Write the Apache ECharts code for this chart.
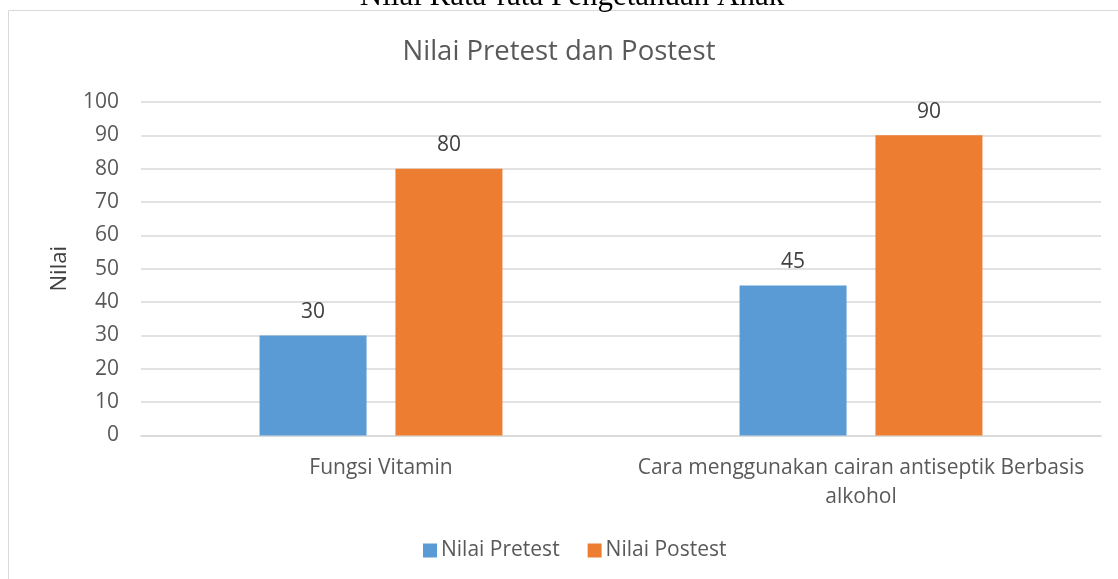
<!DOCTYPE html>
<html>
<head>
<meta charset="utf-8">
<script src="https://cdn.jsdelivr.net/npm/echarts@6/dist/echarts.min.js"></script>
<style>
  html, body { margin: 0; padding: 0; background: #fff; }
  #main { width: 1118px; height: 579px; }
</style>
</head>
<body>
<div id="main"></div>
<script>
// data
const categories = ['Fungsi Vitamin', 'Cara menggunakan cairan antiseptik Berbasis\nalkohol']
const pretest = [30, 45]
const postest = [80, 90]
const seriesNames = ['Nilai Pretest', 'Nilai Postest']

const chart = echarts.init(document.getElementById('main'))
const font = '"Open Sans", sans-serif'

const option = {
  animation: false,
  color: ['#5b9bd5', '#ed7d31'],
  title: {
    text: 'Nilai Pretest dan Postest',
    left: 'center',
    top: 33,
    textStyle: { fontFamily: font, fontSize: 27.5, fontWeight: 'normal', color: '#595959' }
  },
  graphic: [
    {
      type: 'rect',
      shape: { x: 8.5, y: 10.5, width: 1130, height: 600 },
      style: { fill: 'none', stroke: '#d9d9d9', lineWidth: 1 }
    },
    {
      type: 'text',
      x: 572,
      y: 12,
      style: {
        text: 'Nilai Rata-rata Pengetahuan Anak',
        font: '31px "Liberation Serif", serif',
        fill: '#000',
        align: 'center',
        verticalAlign: 'bottom'
      }
    }
  ],
  legend: {
    bottom: 13,
    left: 418,
    itemWidth: 14,
    itemHeight: 14,
    itemGap: 28,
    icon: 'rect',
    textStyle: { fontFamily: font, fontSize: 21, color: '#595959', padding: [0, 0, 0, -1] },
    data: seriesNames
  },
  grid: { left: 141, right: 17, top: 102, bottom: 143.5 },
  xAxis: {
    type: 'category',
    data: categories,
    axisTick: { show: false },
    axisLine: { lineStyle: { color: '#d9d9d9', width: 1.5 } },
    axisLabel: {
      interval: 0,
      hideOverlap: false,
      fontFamily: font,
      fontSize: 21,
      color: '#595959',
      margin: 18,
      lineHeight: 29
    }
  },
  yAxis: {
    type: 'value',
    min: 0,
    max: 100,
    interval: 10,
    name: 'Nilai',
    nameLocation: 'middle',
    nameGap: 70,
    nameTextStyle: { fontFamily: font, fontSize: 22, color: '#404040' },
    axisLabel: { fontFamily: font, fontSize: 21, color: '#595959', margin: 22 },
    splitLine: { lineStyle: { color: '#d9d9d9', width: 1.5 } }
  },
  series: [
    {
      name: seriesNames[0],
      type: 'bar',
      data: pretest,
      barWidth: 107,
      barGap: '27%',
      label: { show: true, position: 'top', distance: 13, fontFamily: font, fontSize: 21, color: '#404040' }
    },
    {
      name: seriesNames[1],
      type: 'bar',
      data: postest,
      barWidth: 107,
      barGap: '27%',
      label: { show: true, position: 'top', distance: 13, fontFamily: font, fontSize: 21, color: '#404040' }
    }
  ]
}
chart.setOption(option)
</script>
</body>
</html>
